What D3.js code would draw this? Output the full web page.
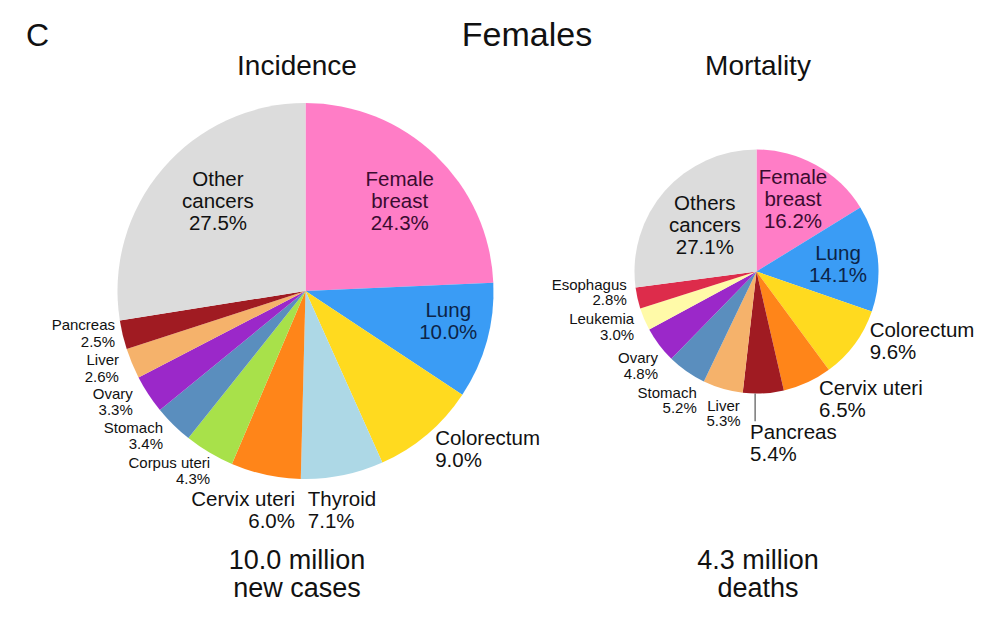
<!DOCTYPE html>
<html>
<head>
<meta charset="utf-8">
<script src="https://cdn.jsdelivr.net/npm/d3@7"></script>
<style>
  body { margin: 0; background: #fff; }
  svg text { font-family: "Liberation Sans", Arial, sans-serif; fill: #111; }
</style>
</head>
<body>
<svg id="chart" width="1000" height="626"></svg>
<script>
// data (percent of all cases / deaths)
const incidenceNames = ["Female breast", "Lung", "Colorectum", "Thyroid", "Cervix uteri", "Corpus uteri",
  "Stomach", "Ovary", "Liver", "Pancreas", "Other cancers"];
const incidenceValues = [24.3, 10.0, 9.0, 7.1, 6.0, 4.3, 3.4, 3.3, 2.6, 2.5, 27.5];

const mortalityNames = ["Female breast", "Lung", "Colorectum", "Cervix uteri", "Pancreas", "Liver",
  "Stomach", "Ovary", "Leukemia", "Esophagus", "Others cancers"];
const mortalityValues = [16.2, 14.1, 9.6, 6.5, 5.4, 5.3, 5.2, 4.8, 3.0, 2.8, 27.1];

const colorNames = ["Female breast", "Lung", "Colorectum", "Thyroid", "Cervix uteri", "Corpus uteri",
  "Stomach", "Ovary", "Liver", "Pancreas", "Leukemia", "Esophagus", "Other cancers", "Others cancers"];
const colorValues = ["#ff7dc6", "#3a9cf5", "#ffda1f", "#add8e6", "#ff8519", "#a8e14a",
  "#5a8ebe", "#9b28c9", "#f5b26b", "#a01b22", "#fffaa8", "#dd2c4b", "#dcdcdc", "#dcdcdc"];

const totals = [["10.0 million", "new cases"], ["4.3 million", "deaths"]];

// label placement: radius from centre, anchor, nudge
const incidenceLayout = [
  { r: 130.5, anchor: "middle", dx: 4, dy: 4, big: true, wrap: true, ink: "#3a0c30" },
  { r: 145, anchor: "middle", dx: 3, dy: -9, big: true, ink: "#0c2448" },
  { r: 205, anchor: "start", dx: -3, dy: 1.5, big: true },
  { r: 210, anchor: "start", dx: -39, dy: 13, big: true },
  { r: 210, anchor: "end", dx: 34, dy: 14, big: true },
  { r: 200, anchor: "end", dx: 7, dy: 8 },
  { r: 200, anchor: "end", dx: -2, dy: 2.4 },
  { r: 200, anchor: "end", dx: -5.6, dy: 1 },
  { r: 200, anchor: "end", dx: -2, dy: 0 },
  { r: 200, anchor: "end", dx: 4, dy: -4.7 },
  { r: 125, anchor: "middle", dx: 7.5, dy: -9, big: true, wrap: true }
];
const mortalityLayout = [
  { r: 81, anchor: "middle", dx: -3, dy: -2, big: true, wrap: true, ink: "#3a0c30" },
  { r: 82, anchor: "middle", dx: 0, dy: 1, big: true, ink: "#0c2448" },
  { r: 138, anchor: "start", dx: 2, dy: -12, big: true },
  { r: 138, anchor: "start", dx: 5, dy: 2, big: true },
  { r: 170, anchor: "start", dx: -16, dy: 2, big: true, leader: true },
  { r: 134, anchor: "middle", dx: 4, dy: 13 },
  { r: 134, anchor: "end", dx: 17, dy: 19 },
  { r: 134, anchor: "end", dx: 8.4, dy: 13.4 },
  { r: 134, anchor: "end", dx: 1, dy: 3 },
  { r: 134, anchor: "end", dx: 1, dy: -8.5 },
  { r: 70, anchor: "middle", dx: 1, dy: -1, big: true, wrap: true }
];

const svg = d3.select("#chart");
const color = d3.scaleOrdinal().domain(colorNames).range(colorValues);
const fmt = d3.format(".1f");

svg.append("text").attr("x", 26).attr("y", 46).style("font-size", "32px").text("C");
svg.append("text").attr("x", 527).attr("y", 46).attr("text-anchor", "middle")
  .style("font-size", "34px").text("Females");

function drawPie(cfg, names, values, layout, title, total) {
  const g = svg.append("g").attr("transform", `translate(${cfg.cx},${cfg.cy})`);
  const pie = d3.pie().sort(null).value(d => d.value);
  const arcs = pie(names.map((n, i) => ({ name: n, value: values[i] })));
  const arc = d3.arc().innerRadius(0).outerRadius(cfg.R);

  g.selectAll("path.slice")
    .data(arcs)
    .enter()
    .append("path")
    .attr("class", "slice")
    .attr("d", arc)
    .attr("fill", d => color(d.data.name));

  arcs.forEach(function (d, i) {
    const L = layout[i];
    const fs = L.big ? 20.5 : cfg.small;
    const lh = L.big ? 22 : cfg.smallLh;
    const p = d3.arc().innerRadius(L.r).outerRadius(L.r).centroid(d);
    const x = p[0] + L.dx, yc = p[1] + L.dy;
    const lines = (L.wrap ? d.data.name.split(" ") : [d.data.name]).concat([fmt(d.data.value) + "%"]);
    const y0 = yc - (lines.length - 1) * lh / 2 + 0.35 * fs;
    const t = g.append("text")
      .attr("text-anchor", L.anchor)
      .style("font-size", fs + "px")
      .style("fill", L.ink || "#111");
    lines.forEach(function (s, j) {
      t.append("tspan").attr("x", x).attr("y", y0 + j * lh).text(s);
    });
    if (L.leader) {
      const lx = x + 5;
      g.append("line")
        .attr("x1", lx).attr("x2", lx)
        .attr("y1", Math.sqrt(cfg.R * cfg.R - lx * lx))
        .attr("y2", y0 - fs * 0.88)
        .attr("stroke", "#555").attr("stroke-width", 1.2);
    }
  });

  svg.append("text").attr("x", cfg.titleX).attr("y", 75).attr("text-anchor", "middle")
    .style("font-size", "28px").text(title);
  const tt = svg.append("text").attr("text-anchor", "middle").style("font-size", "27px");
  total.forEach(function (s, j) {
    tt.append("tspan").attr("x", cfg.titleX).attr("y", 569 + j * 28).text(s);
  });
}

drawPie({ cx: 305.5, cy: 291, R: 188, small: 15, smallLh: 16.7, titleX: 297 },
  incidenceNames, incidenceValues, incidenceLayout, "Incidence", totals[0]);
drawPie({ cx: 756.5, cy: 271.5, R: 122, small: 15, smallLh: 15.5, titleX: 758 },
  mortalityNames, mortalityValues, mortalityLayout, "Mortality", totals[1]);
</script>
</body>
</html>
